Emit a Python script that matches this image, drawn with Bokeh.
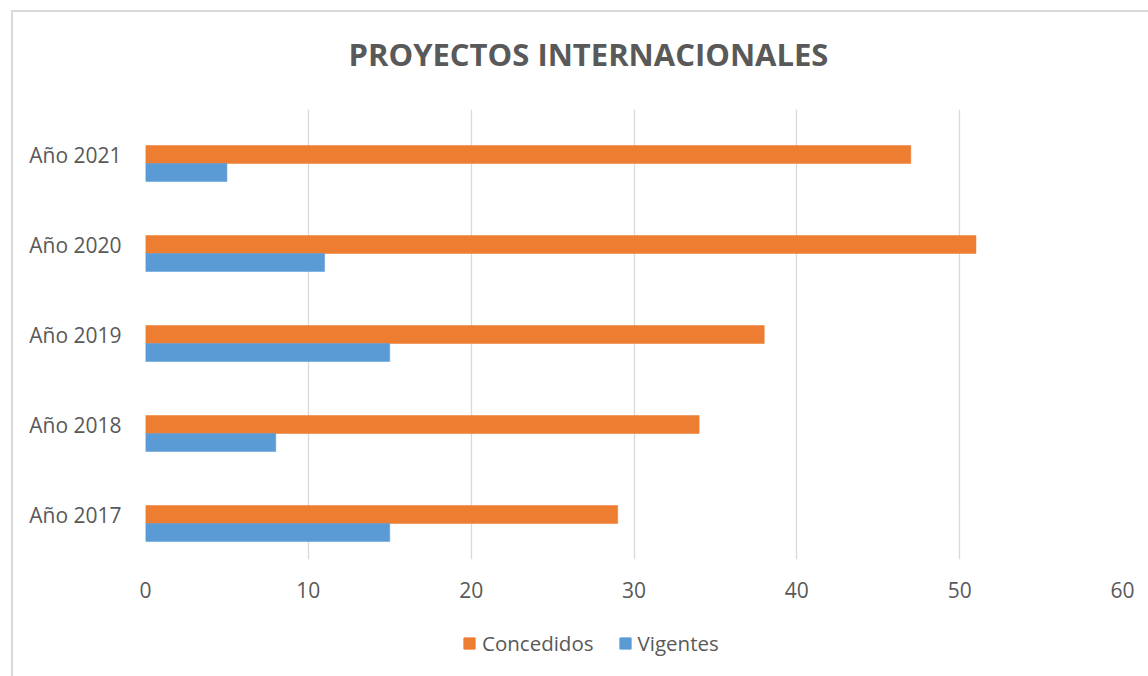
from bokeh.plotting import figure
from bokeh.layouts import column
from bokeh.models import ColumnDataSource, Legend, LegendItem, FactorRange, Label
from bokeh.transform import dodge
from bokeh.embed import file_html
from bokeh.resources import INLINE

title_text = "PROYECTOS INTERNACIONALES"
categories = ["Año 2017", "Año 2018", "Año 2019", "Año 2020", "Año 2021"]
concedidos = [29, 34, 38, 51, 47]
vigentes = [15, 8, 15, 11, 5]
x_ticks = [0, 10, 20, 30, 40, 50, 60]
series_names = ["Concedidos", "Vigentes"]
colors = ["#ED7D31", "#5B9BD5"]

source = ColumnDataSource(dict(cat=categories, concedidos=concedidos, vigentes=vigentes))

TEXT = "#595959"
FONT = "Open Sans"

# title strip
pt = figure(width=1135, height=97, x_range=(0, 1), y_range=(0, 1),
            output_backend="svg", toolbar_location=None, min_border=0,
            x_axis_location=None, y_axis_location=None)
pt.outline_line_color = None
pt.grid.visible = False
pt.add_layout(Label(x=443, y=56, x_units="screen", y_units="screen", text=title_text,
                    text_align="center", text_baseline="middle", text_font=FONT,
                    text_font_size="31px", text_font_style="bold", text_color=TEXT))

# main chart
p = figure(width=1135, height=507, y_range=FactorRange(*categories), x_range=(0, 60),
           output_backend="svg", toolbar_location=None,
           min_border_left=132, min_border_right=26, min_border_top=0, min_border_bottom=57)

r1 = p.hbar(y=dodge("cat", 0.0, range=p.y_range), right="concedidos", left=0, height=0.2,
            source=source, fill_color=colors[0], line_color=colors[0], line_width=0.5)
r2 = p.hbar(y=dodge("cat", -0.2, range=p.y_range), right="vigentes", left=0, height=0.2,
            source=source, fill_color=colors[1], line_color=colors[1], line_width=0.5)

p.outline_line_color = None
p.ygrid.grid_line_color = None
p.xgrid.grid_line_color = "#D9D9D9"
p.xgrid.grid_line_width = 1.3
p.xaxis.ticker = x_ticks

for ax in (p.xaxis[0], p.yaxis[0]):
    ax.axis_line_color = None
    ax.major_tick_line_color = None
    ax.minor_tick_line_color = None
    ax.major_label_text_font = FONT
    ax.major_label_text_font_size = "21px"
    ax.major_label_text_color = TEXT
p.xaxis.major_label_standoff = 16
p.yaxis.major_label_standoff = 18

# legend strip
pl = figure(width=1135, height=60, y_range=FactorRange(*categories), x_range=(0, 60),
            output_backend="svg", toolbar_location=None, min_border=0,
            x_axis_location=None, y_axis_location=None)
pl.outline_line_color = None
pl.grid.visible = False
l1 = pl.hbar(y="cat", right="concedidos", height=0.2, source=source,
             fill_color=colors[0], line_color=colors[0], visible=False)
l2 = pl.hbar(y="cat", right="vigentes", height=0.2, source=source,
             fill_color=colors[1], line_color=colors[1], visible=False)
legend = Legend(items=[LegendItem(label=series_names[0], renderers=[l1]),
                       LegendItem(label=series_names[1], renderers=[l2])],
                orientation="horizontal", location=(317, 19),
                glyph_width=14, glyph_height=14, label_standoff=6, spacing=24,
                padding=0, margin=0, border_line_color=None, background_fill_alpha=0,
                inactive_fill_alpha=0,
                label_text_font=FONT, label_text_font_size="20.5px", label_text_color=TEXT)
pl.add_layout(legend)

layout = column(pt, p, pl, spacing=0)
layout.styles = {"margin-left": "11px", "margin-top": "10px",
                 "border-left": "2px solid #D9D9D9", "border-top": "2px solid #D9D9D9"}

open("out.html", "w").write(file_html(layout, INLINE))
